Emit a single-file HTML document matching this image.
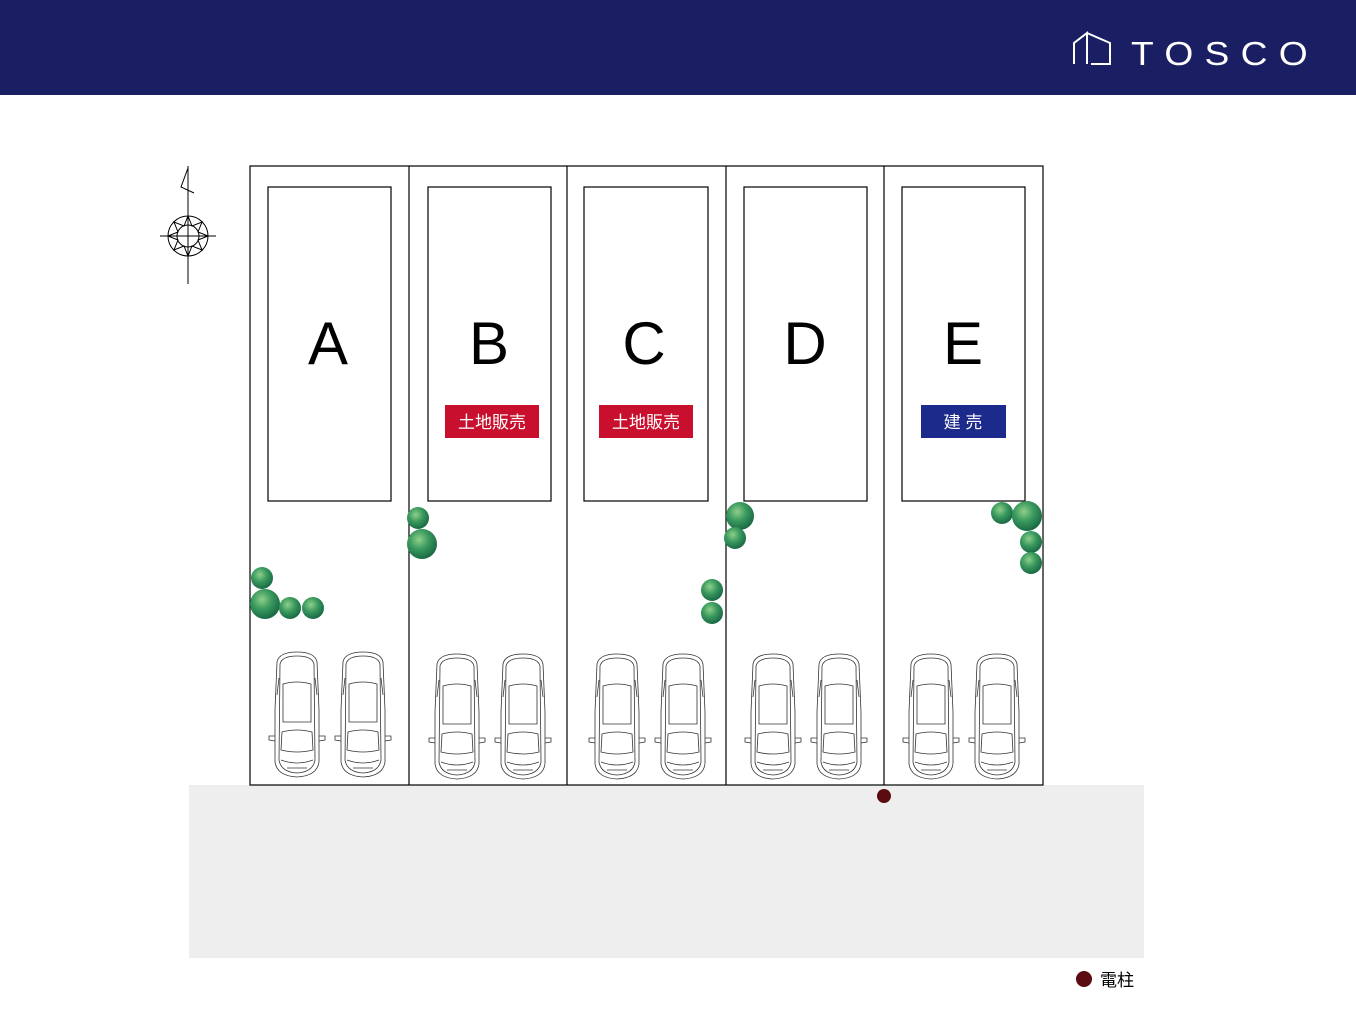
<!DOCTYPE html>
<html><head><meta charset="utf-8"><style>
html,body{margin:0;padding:0;background:#fff;width:1356px;height:1017px;overflow:hidden}
svg{display:block}
</style></head><body>
<svg width="1356" height="1017" viewBox="0 0 1356 1017" xmlns="http://www.w3.org/2000/svg">
<defs>
<radialGradient id="tg" cx="40%" cy="35%" r="65%">
<stop offset="0" stop-color="#8fcf8a"/><stop offset="0.5" stop-color="#3a9a5e"/><stop offset="1" stop-color="#1a6a45"/>
</radialGradient>
<g id="car" fill="none" stroke="#333" stroke-width="0.8">
<path d="M8 12 Q10 2 28 2 Q46 2 48 12 L50 60 L50 112 Q48 126 28 127 Q8 126 6 112 L6 60 Z"/>
<path d="M11 14 Q13 6 28 6 Q43 6 45 14 L46 110 Q44 122 28 123 Q12 122 10 110 Z"/>
<path d="M14 34 Q28 30 42 34 L42 72 L14 72 Z"/>
<path d="M13 82 Q28 78 43 82 L44 100 Q28 104 12 100 Z"/>
<path d="M10 28 L8 45 M46 28 L48 45"/>
<path d="M6 86 L0 86 L0 90 L6 91 M50 86 L56 86 L56 90 L50 91"/>
<path d="M12 110 Q28 116 44 110 M18 118 L38 118"/>
</g>
</defs>
<rect x="0" y="0" width="1356" height="95" fill="#1a1f63"/>
<g fill="none" stroke="#fff" stroke-width="2">
<path d="M1074 64 L1074 43 L1087 33 L1087 64 M1087 33 L1110 43 L1110 64 L1091 64"/>
</g>
<text x="1131" y="65" font-family="Liberation Sans, sans-serif" font-size="33" fill="#fff" textLength="188" lengthAdjust="spacingAndGlyphs" transform="translate(1131 0) scale(1 1) translate(-1131 0)" letter-spacing="10">TOSCO</text>

<rect x="189" y="785" width="955" height="173" fill="#eeeeee"/>

<g fill="none" stroke="#000" stroke-width="1.2">
<rect x="250" y="166" width="793" height="619"/>
<line x1="409" y1="166" x2="409" y2="785"/><line x1="567" y1="166" x2="567" y2="785"/>
<line x1="726" y1="166" x2="726" y2="785"/><line x1="884" y1="166" x2="884" y2="785"/>
<rect x="268" y="187" width="123" height="314"/><rect x="428" y="187" width="123" height="314"/>
<rect x="584" y="187" width="124" height="314"/><rect x="744" y="187" width="123" height="314"/>
<rect x="902" y="187" width="123" height="314"/>
</g>

<g font-family="Liberation Sans, sans-serif" font-size="60" text-anchor="middle" fill="#000">
<text x="328" y="364">A</text><text x="489" y="364">B</text><text x="644" y="364">C</text><text x="805" y="364">D</text><text x="963" y="364">E</text>
</g>
<rect x="445" y="405" width="94" height="33" fill="#c8102e"/>
<rect x="599" y="405" width="94" height="33" fill="#c8102e"/>
<rect x="921" y="405" width="85" height="33" fill="#1c2a8c"/>
<g font-family="Liberation Sans, 'Noto Sans CJK JP', sans-serif" font-size="17" fill="#fff" text-anchor="middle">
<text x="492" y="428">土地販売</text><text x="646" y="428">土地販売</text><text x="963" y="428">建 売</text>
</g>

<g fill="url(#tg)">
<circle cx="262" cy="578" r="11"/><circle cx="265" cy="604" r="15"/><circle cx="290" cy="608" r="11"/><circle cx="313" cy="608" r="11"/>
<circle cx="418" cy="518" r="11"/><circle cx="422" cy="544" r="15"/>
<circle cx="712" cy="590" r="11"/><circle cx="712" cy="613" r="11"/>
<circle cx="740" cy="516" r="14"/><circle cx="735" cy="538" r="11"/>
<circle cx="1002" cy="513" r="11"/><circle cx="1027" cy="516" r="15"/><circle cx="1031" cy="542" r="11"/><circle cx="1031" cy="563" r="11"/>
</g>

<use href="#car" x="269" y="650"/><use href="#car" x="335" y="650"/>
<use href="#car" x="429" y="652"/><use href="#car" x="495" y="652"/>
<use href="#car" x="589" y="652"/><use href="#car" x="655" y="652"/>
<use href="#car" x="745" y="652"/><use href="#car" x="811" y="652"/>
<use href="#car" x="903" y="652"/><use href="#car" x="969" y="652"/>

<g fill="none" stroke="#000" stroke-width="1">
<line x1="188" y1="166" x2="188" y2="284"/><line x1="160" y1="236" x2="216" y2="236"/>
<path d="M188 168 L181 187 L194 193"/>
<circle cx="188" cy="236" r="20"/><circle cx="188" cy="236" r="11"/>
<path d="M188 216 L192 226 L202 222 L198 232 L208 236 L198 240 L202 250 L192 246 L188 256 L184 246 L174 250 L178 240 L168 236 L178 232 L174 222 L184 226 Z"/>
</g>

<circle cx="884" cy="796" r="7" fill="#5a0c10"/>
<circle cx="1084" cy="979" r="8" fill="#5a0c10"/>
<text x="1100" y="986" font-family="Liberation Sans, 'Noto Sans CJK JP', sans-serif" font-size="17" fill="#000">電柱</text>
</svg>
</body></html>
